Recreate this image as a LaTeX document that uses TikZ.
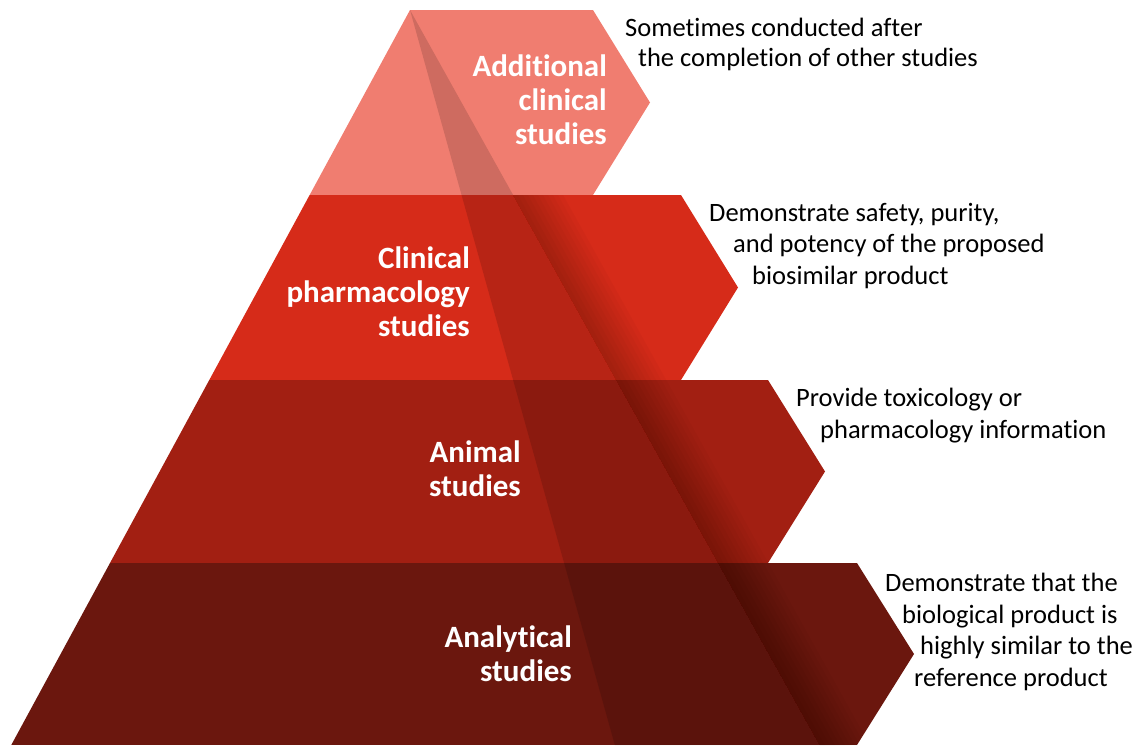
\documentclass[tikz,border=0pt]{standalone}
\usepackage{fontspec}
\setmainfont{Carlito}[Ligatures={NoCommon}]
\usetikzlibrary{positioning}

\definecolor{tierA}{HTML}{F07D70}
\definecolor{tierB}{HTML}{D62B19}
\definecolor{tierC}{HTML}{A21F12}
\definecolor{tierD}{HTML}{6B170E}

\tikzset{
  tierlabel/.style={anchor=north east, inner sep=0pt, align=right, text=white,
                    font=\bfseries\fontsize{31}{34}\selectfont},
  tiernote/.style={anchor=north west, inner sep=0pt, align=left, text=black,
                   font=\fontsize{26.5}{31.5}\selectfont}
}

\begin{document}
\begin{tikzpicture}[x=1pt, y=-1pt]
  \useasboundingbox (0,0) rectangle (1136,745);

  \foreach \yt/\yb/\rx/\col/\sh in {10/195/593/tierA/0, 195/380/681/tierB/1,
                                     380/563/768/tierC/1, 563/745/857/tierD/1}{
    \pgfmathsetmacro\xt{410-0.5425*(\yt-10)}
    \pgfmathsetmacro\xb{410-0.5425*(\yb-10)}
    \pgfmathsetmacro\ym{(\yt+\yb)/2}
    \pgfmathsetmacro\tip{\rx+57}
    \begin{scope}
      \clip (\xt,\yt) -- (\rx,\yt) -- (\tip,\ym) -- (\rx,\yb) -- (\xb,\yb) -- cycle;
      \fill[\col] (0,0) rectangle (1136,745);
      % darker fold between the two creases from the apex
      \fill[black, opacity=.14] (410,10) -- (619,760) -- (828,760) -- cycle;
      \ifnum\sh=1
        \foreach \k in {1,...,10}
          \fill[black, opacity=.025] (410,10) -- (828,760) -- ++(5*\k,0) -- (410+5*\k,10) -- cycle;
      \fi
    \end{scope}
  }

  \node[tierlabel] (lblAdd) at (607,55) {Additional\\clinical\\studies};
  \node[tierlabel] (lblPharm) at (470,247) {Clinical\\pharmacology\\studies};
  \node[tierlabel] (lblAnimal) at (521,441) {Animal\\studies};
  \node[tierlabel] (lblAnalyt) at (572,626) {Analytical\\studies};

  \node[tiernote, font=\fontsize{26.5}{30}\selectfont] (noteAdd) at (625,18)
    {Sometimes conducted after\\\hspace*{13pt}the completion of other studies};
  \node[tiernote] (notePharm) at (709,203)
    {Demonstrate safety, purity,\\\hspace*{24pt}and potency of the proposed\\\hspace*{43pt}biosimilar product};
  \node[tiernote] (noteAnimal) at (796,388)
    {Provide toxicology or\\\hspace*{24pt}pharmacology information};
  \node[tiernote] (noteAnalyt) at (885,573)
    {Demonstrate that the\\\hspace*{17pt}biological product is\\\hspace*{35pt}highly similar to the\\\hspace*{29pt}reference product};
\end{tikzpicture}
\end{document}
